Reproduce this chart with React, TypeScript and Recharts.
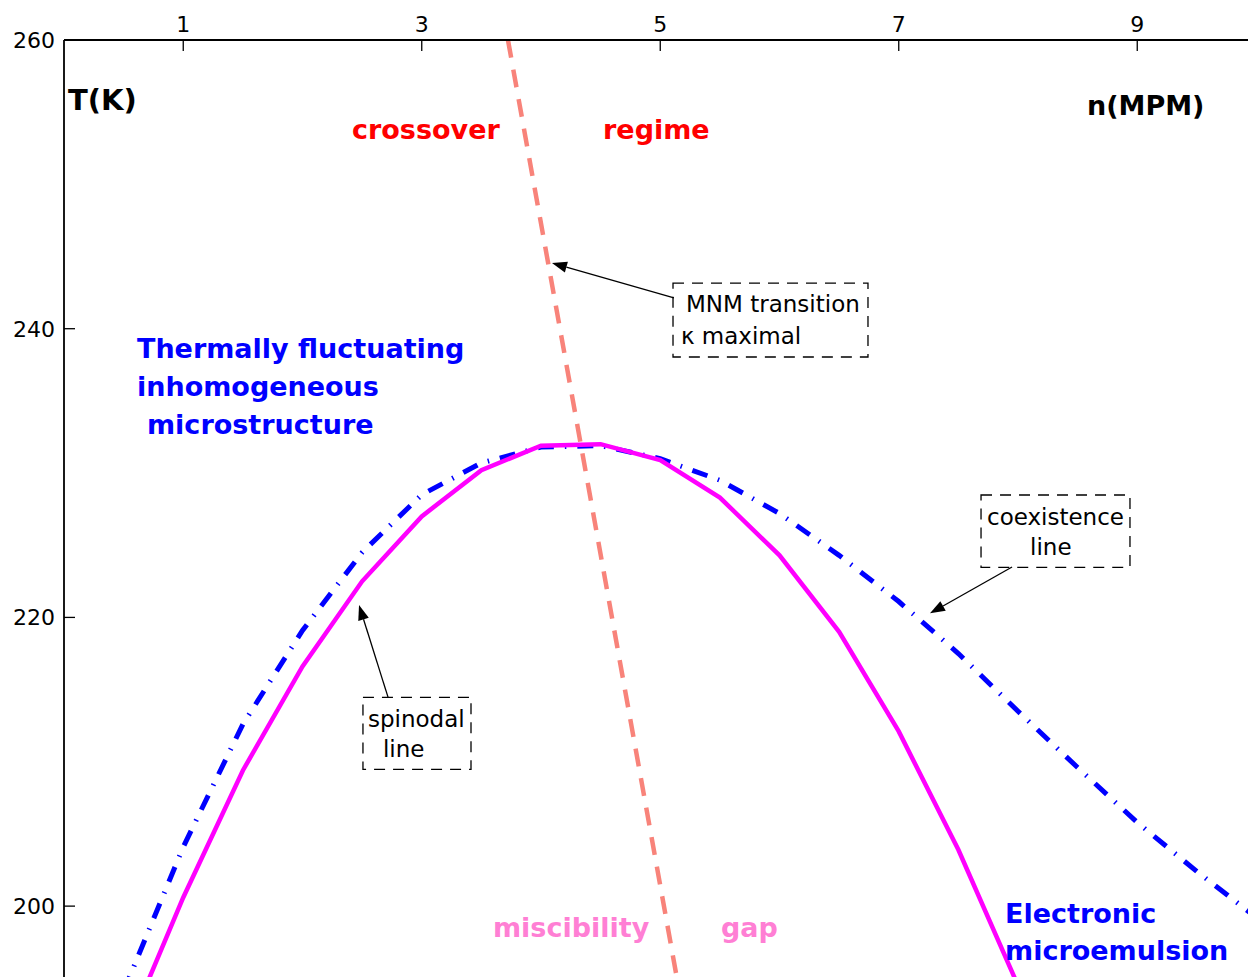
import React from 'react';
import {
  LineChart,
  Line,
  XAxis,
  YAxis,
  ReferenceArea,
  ReferenceLine,
  ReferenceDot,
} from 'recharts';

// ---- data ----
const nSpinodal = [0.5, 1, 1.5, 2, 2.5, 3, 3.5, 4, 4.5, 5, 5.5, 6, 6.5, 7, 7.5, 8];
const TSpinodal = [190.8, 200.6, 209.4, 216.6, 222.5, 227.0, 230.2, 231.9, 232.0, 230.9, 228.3, 224.3, 219.0, 212.1, 203.9, 194.5];

const nCoexist = [0.5, 1, 1.5, 2, 2.5, 3, 3.5, 4, 4.5, 5, 5.5, 6, 6.5, 7, 7.5, 8, 8.5, 9, 9.5, 10];
const TCoexist = [194.1, 204.1, 212.6, 219.1, 224.5, 228.5, 230.7, 231.8, 231.9, 231.0, 229.5, 227.2, 224.3, 221.1, 217.5, 213.5, 209.6, 205.8, 202.4, 199.2];

const nCrossover = [3.723, 5.14];
const TCrossover = [260, 195];

const xTicks = [1, 3, 5, 7, 9];
const yTicks = [200, 220, 240, 260];

// free text labels: [text, n, T, color, size, weight]
const textLabels: [string, number, number, string, number, string][] = [
  ['T(K)', 0.034, 255.15, '#000000', 29, 'bold'],
  ['n(MPM)', 8.579, 254.8, '#000000', 27, 'bold'],
  ['crossover', 2.415, 253.14, '#ff0000', 27, 'bold'],
  ['regime', 4.52, 253.14, '#ff0000', 27, 'bold'],
  ['Thermally fluctuating', 0.612, 237.97, '#0000ff', 27, 'bold'],
  ['inhomogeneous', 0.612, 235.34, '#0000ff', 27, 'bold'],
  ['microstructure', 0.696, 232.7, '#0000ff', 27, 'bold'],
  ['miscibility', 3.597, 197.85, '#ff7fd4', 27, 'bold'],
  ['gap', 5.509, 197.85, '#ff7fd4', 27, 'bold'],
  ['Electronic', 7.891, 198.82, '#0000ff', 27, 'bold'],
  ['microemulsion', 7.891, 196.26, '#0000ff', 27, 'bold'],
  ['MNM transition', 5.216, 241.16, '#000000', 23, 'normal'],
  ['\u03ba maximal', 5.174, 238.94, '#000000', 23, 'normal'],
  ['spinodal', 2.549, 212.43, '#000000', 23, 'normal'],
  ['line', 2.675, 210.35, '#000000', 23, 'normal'],
  ['coexistence', 7.74, 226.4, '#000000', 23, 'normal'],
  ['line', 8.101, 224.32, '#000000', 23, 'normal'],
];

// dashed boxes: [n1, n2, T1, T2]
const boxes: [number, number, number, number][] = [
  [5.107, 6.742, 238.04, 243.16],
  [2.507, 3.413, 209.47, 214.46],
  [7.69, 8.939, 223.47, 228.48],
];

// arrows: [nFrom, TFrom, nTo, TTo]
const arrows: [number, number, number, number][] = [
  [5.115, 242.13, 4.092, 244.55],
  [2.717, 214.48, 2.474, 220.86],
  [7.95, 223.49, 7.262, 220.28],
];

const spinodalData = nSpinodal.map((n, i) => ({ n, T: TSpinodal[i] }));
const coexistData = nCoexist.map((n, i) => ({ n, T: TCoexist[i] }));
const crossoverData = nCrossover.map((n, i) => ({ n, T: TCrossover[i] }));

const FONT = '"DejaVu Sans", sans-serif';

const makeText = (text: string, color: string, size: number, weight: string) => (props: any) => (
  <text
    x={props.cx}
    y={props.cy}
    fill={color}
    fontSize={size}
    fontWeight={weight}
    fontFamily={FONT}
    textAnchor="start"
    style={{ whiteSpace: 'pre' }}
  >
    {text}
  </text>
);

const ArrowShape = (props: any) => {
  const { x1, y1, x2, y2 } = props;
  const dx = x2 - x1;
  const dy = y2 - y1;
  const len = Math.sqrt(dx * dx + dy * dy) || 1;
  const ux = dx / len;
  const uy = dy / len;
  const hl = 15;
  const hw = 5.5;
  const bx = x2 - ux * hl;
  const by = y2 - uy * hl;
  const p1 = `${bx - uy * hw},${by + ux * hw}`;
  const p2 = `${bx + uy * hw},${by - ux * hw}`;
  return (
    <g>
      <line x1={x1} y1={y1} x2={bx} y2={by} stroke="#000" strokeWidth={1.3} />
      <polygon points={`${x2},${y2} ${p1} ${p2}`} fill="#000" />
    </g>
  );
};

export default function App() {
  const W = 1320;
  const H = 1040;
  return (
    <div
      style={{
        position: 'fixed',
        left: 0,
        top: 0,
        width: 1248,
        height: 977,
        overflow: 'hidden',
        background: '#fff',
      }}
    >
      <LineChart
        width={W}
        height={H}
        margin={{ top: 39, left: 63, right: W - 1256.5 - 1, bottom: H - 978.3 - 1 }}
        style={{ fontFamily: FONT }}
      >
        <XAxis
          xAxisId="top"
          orientation="top"
          type="number"
          dataKey="n"
          domain={[0, 10]}
          ticks={xTicks}
          allowDataOverflow
          height={1}
          tickSize={-11}
          tickMargin={19}
          axisLine={{ stroke: '#000', strokeWidth: 1.8 }}
          tickLine={{ stroke: '#000', strokeWidth: 1.3 }}
          tick={{ fill: '#000', fontSize: 22, fontFamily: FONT }}
        />
        <XAxis
          xAxisId="bottom"
          orientation="bottom"
          type="number"
          dataKey="n"
          domain={[0, 10]}
          ticks={xTicks}
          allowDataOverflow
          height={1}
          tickSize={-11}
          axisLine={{ stroke: '#000', strokeWidth: 1.8 }}
          tickLine={{ stroke: '#000', strokeWidth: 1.3 }}
          tick={false}
        />
        <YAxis
          yAxisId="left"
          orientation="left"
          type="number"
          domain={[195, 260]}
          ticks={yTicks}
          allowDataOverflow
          width={1}
          tickSize={-11}
          tickMargin={20}
          axisLine={{ stroke: '#000', strokeWidth: 1.8 }}
          tickLine={{ stroke: '#000', strokeWidth: 1.3 }}
          tick={{ fill: '#000', fontSize: 22, fontFamily: FONT }}
        />
        <YAxis
          yAxisId="right"
          orientation="right"
          type="number"
          domain={[195, 260]}
          ticks={yTicks}
          allowDataOverflow
          width={1}
          tickSize={-11}
          axisLine={{ stroke: '#000', strokeWidth: 1.8 }}
          tickLine={{ stroke: '#000', strokeWidth: 1.3 }}
          tick={false}
        />

        <Line
          xAxisId="top"
          yAxisId="left"
          data={coexistData}
          dataKey="T"
          type="linear"
          stroke="#0000ff"
          strokeWidth={5}
          strokeDasharray="16 11 1.5 11"
          dot={false}
          activeDot={false}
          isAnimationActive={false}
        />
        <Line
          xAxisId="top"
          yAxisId="left"
          data={spinodalData}
          dataKey="T"
          type="linear"
          stroke="#ff00ff"
          strokeWidth={4.5}
          dot={false}
          activeDot={false}
          isAnimationActive={false}
        />
        <Line
          xAxisId="top"
          yAxisId="left"
          data={crossoverData}
          dataKey="T"
          type="linear"
          stroke="#f8837a"
          strokeWidth={4.5}
          strokeDasharray="18 12"
          dot={false}
          activeDot={false}
          isAnimationActive={false}
        />

        {boxes.map((b, i) => (
          <ReferenceArea
            key={`box${i}`}
            xAxisId="top"
            yAxisId="left"
            x1={b[0]}
            x2={b[1]}
            y1={b[2]}
            y2={b[3]}
            fill="none"
            fillOpacity={0}
            stroke="#000"
            strokeWidth={1.3}
            strokeDasharray="11 8"
            ifOverflow="visible"
          />
        ))}

        {arrows.map((a, i) => (
          <ReferenceLine
            key={`arr${i}`}
            xAxisId="top"
            yAxisId="left"
            segment={[
              { x: a[0], y: a[1] },
              { x: a[2], y: a[3] },
            ]}
            ifOverflow="visible"
            shape={ArrowShape}
          />
        ))}

        {textLabels.map((t, i) => (
          <ReferenceDot
            key={`txt${i}`}
            xAxisId="top"
            yAxisId="left"
            x={t[1]}
            y={t[2]}
            r={0}
            ifOverflow="visible"
            shape={makeText(t[0], t[3], t[4], t[5])}
          />
        ))}
      </LineChart>
    </div>
  );
}
